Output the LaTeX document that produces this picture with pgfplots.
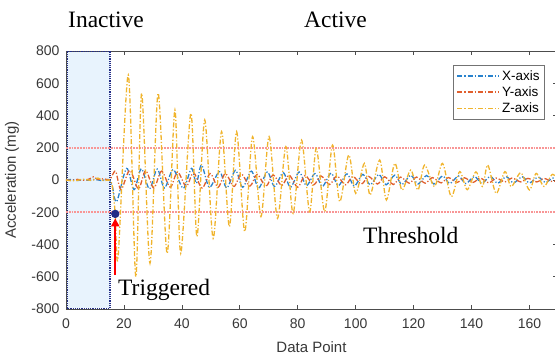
\documentclass[border=0pt]{standalone}
\usepackage{pgfplots}
\pgfplotsset{compat=1.18}
\usepackage{fontspec}
\setmainfont{Liberation Sans}
\newfontfamily\timesfont{Liberation Serif}
\usetikzlibrary{arrows.meta}
\definecolor{cx}{RGB}{40,130,205}
\definecolor{cy}{RGB}{225,95,45}
\definecolor{cz}{RGB}{240,180,45}
\definecolor{shadebg}{RGB}{232,243,253}
\definecolor{navyb}{RGB}{35,45,135}
\definecolor{thr}{RGB}{248,150,150}
\begin{document}
\begin{tikzpicture}
\useasboundingbox (-66pt,-45pt) rectangle (489pt,309pt);
\clip (-66pt,-45pt) rectangle (489pt,309pt);
\begin{axis}[
  at={(0pt,0pt)}, anchor=south west,
  scale only axis, width=491pt, height=258pt,
  xmin=0, xmax=169.5, ymin=-800, ymax=800,
  xtick={0,20,...,160}, ytick={-800,-600,...,800},
  tick align=inside, major tick length=4pt,
  axis line style={black!70, line width=0.7pt},
  every tick/.style={black!70, line width=0.7pt},
  /pgf/number format/assume math mode=true,
  tick label style={font=\fontsize{14}{16}\selectfont, color=black!78},
  xticklabel style={yshift=-6pt},
  yticklabel style={xshift=-3pt},
  xlabel={Data Point}, ylabel={Acceleration (mg)},
  label style={font=\fontsize{15}{17}\selectfont, color=black!78},
  xlabel style={at={(axis description cs:0.5,0)}, anchor=base, yshift=-43pt},
  ylabel style={at={(axis description cs:-0.11,0.5)}, anchor=center, rotate=0},
  legend style={at={(axis description cs:0.9756,0.9457)}, anchor=north east,
    draw=black!55, line width=0.6pt, fill=white,
    font=\fontsize{13.5}{15}\selectfont, inner sep=3pt, row sep=1pt,
    cells={anchor=west}},
  legend image code/.code={\draw[#1, line width=1.5pt] (0pt,0pt) -- (42pt,0pt);},
  every axis plot/.append style={line width=1.3pt, dash pattern=on 5pt off 2pt on 1.2pt off 2pt},
]
\fill[shadebg] (axis cs:0.4,-795) rectangle (axis cs:15.2,795);
\draw[navyb, line width=1.2pt, densely dotted] (axis cs:0.4,-795) rectangle (axis cs:15.2,795);
\addplot[thr, line width=1.8pt, solid, densely dotted, forget plot] coordinates {(0,200) (175,200)};
\addplot[thr, line width=1.8pt, solid, densely dotted, forget plot] coordinates {(0,-200) (175,-200)};

% X-axis
\addplot[cx, smooth] coordinates {
(0,0)(2,3)(4,-3)(6,2)(8,-2)(10,4)(12,-3)(14,2)(15,0)(16,-40)(17.5,-134)(20.9,72)(23.5,-60)(26,70)(28.8,-55)(31.5,68)(34,-50)(37,65)(40.5,-52)(43.3,72)(45,-20)(46.8,93)(49.5,-45)(53,52)(55.5,-50)(58.5,60)(61,-45)(64,55)(66.5,-50)(69.5,50)(72,-40)(75,45)(77.5,-45)(80.5,50)(83,-35)(86,40)(88.5,-40)(91.5,42)(94,-35)(97,38)(99.5,-38)(102.5,35)(105,-30)(108,35)(110.5,-30)(113.5,30)(116,-28)(119,30)(121.5,-25)(124.5,28)(127,-25)(130,25)(132.5,-22)(135.5,25)(138,-22)(141,22)(143.5,-20)(146.5,22)(149,-20)(152,20)(154.5,-18)(157.5,20)(160,-18)(163,18)(165.5,-15)(168.5,15)(171,-12)
};
\addlegendentry{X-axis}
% Y-axis
\addplot[cy, smooth] coordinates {
(0,0)(2,-3)(4,4)(6,-2)(8,6)(9.5,20)(11,3)(13,8)(15,0)(16,30)(17.2,52)(19,-60)(22,60)(25,-55)(27.5,58)(30.3,-50)(33,55)(36,-45)(38.5,50)(41.5,-40)(44,45)(47,-50)(49.8,40)(52.5,-45)(55,40)(58,-40)(60.5,38)(63.5,-38)(66,35)(69,-40)(71.5,32)(74.5,-35)(77,30)(80,-45)(82.5,28)(85.5,-30)(88,25)(91,-28)(93.5,25)(96.5,-30)(99,22)(102,-25)(104.5,22)(107.5,-25)(110,20)(113,-28)(115.5,18)(118.5,-20)(121,18)(124,-20)(126.5,15)(129.5,-18)(132,15)(135,-15)(137.5,14)(140.5,-15)(143,12)(146,-18)(148.5,12)(151.5,-12)(154,12)(157,-12)(159.5,10)(162.5,-12)(165,10)(168,-10)(171,8)
};
\addlegendentry{Y-axis}
% Z-axis
\addplot[cz, smooth] coordinates {
(0,0)(3,-5)(6,5)(9,-3)(11,12)(13,-5)(15,0)(16,-40)(17,-210)(18,-476)(21.5,651)(24.1,-600)(26.1,538)(29,-516)(31.8,538)(34.9,-455)(37.6,434)(39.6,-455)(43.1,413)(45.2,-351)(47.9,372)(50.8,-362)(53.7,300)(56.4,-290)(58.9,300)(61.7,-320)(64.4,269)(67.3,-227)(70.1,269)(73,-238)(75.9,207)(78.4,-207)(81.3,248)(84.1,-196)(86.4,196)(89.3,-196)(92,217)(94.5,-134)(97.6,155)(100,-83)(103,103)(105,-93)(108.3,124)(110.6,-124)(113.5,103)(116,-62)(119,62)(121.5,-62)(123.8,93)(127.2,-41)(130,103)(133,-103)(135.9,52)(138.5,-60)(141.5,50)(143.8,-40)(145.6,93)(148.5,-83)(151.5,52)(153.7,-41)(157,45)(160,-62)(162.3,41)(165,-40)(168,35)(171,-30)
};
\addlegendentry{Z-axis}
\addplot[only marks, solid, mark=*, mark size=3.5pt, navyb, forget plot] coordinates {(17,-210)};
\addplot[red, solid, line width=2.2pt, -{Triangle[length=8pt,width=8pt]}, forget plot] coordinates {(17,-590) (17,-238)};
\end{axis}
\node[anchor=base west, inner sep=0pt, font=\timesfont\fontsize{23.5}{28}\selectfont] at (2pt,281pt) {Inactive};
\node[anchor=base west, inner sep=0pt, font=\timesfont\fontsize{23.5}{28}\selectfont] at (238pt,281pt) {Active};
\node[anchor=base west, inner sep=0pt, font=\timesfont\fontsize{23.5}{28}\selectfont] at (297pt,66pt) {Threshold};
\node[anchor=base west, inner sep=0pt, font=\timesfont\fontsize{23.5}{28}\selectfont] at (52pt,14pt) {Triggered};
\end{tikzpicture}
\end{document}
